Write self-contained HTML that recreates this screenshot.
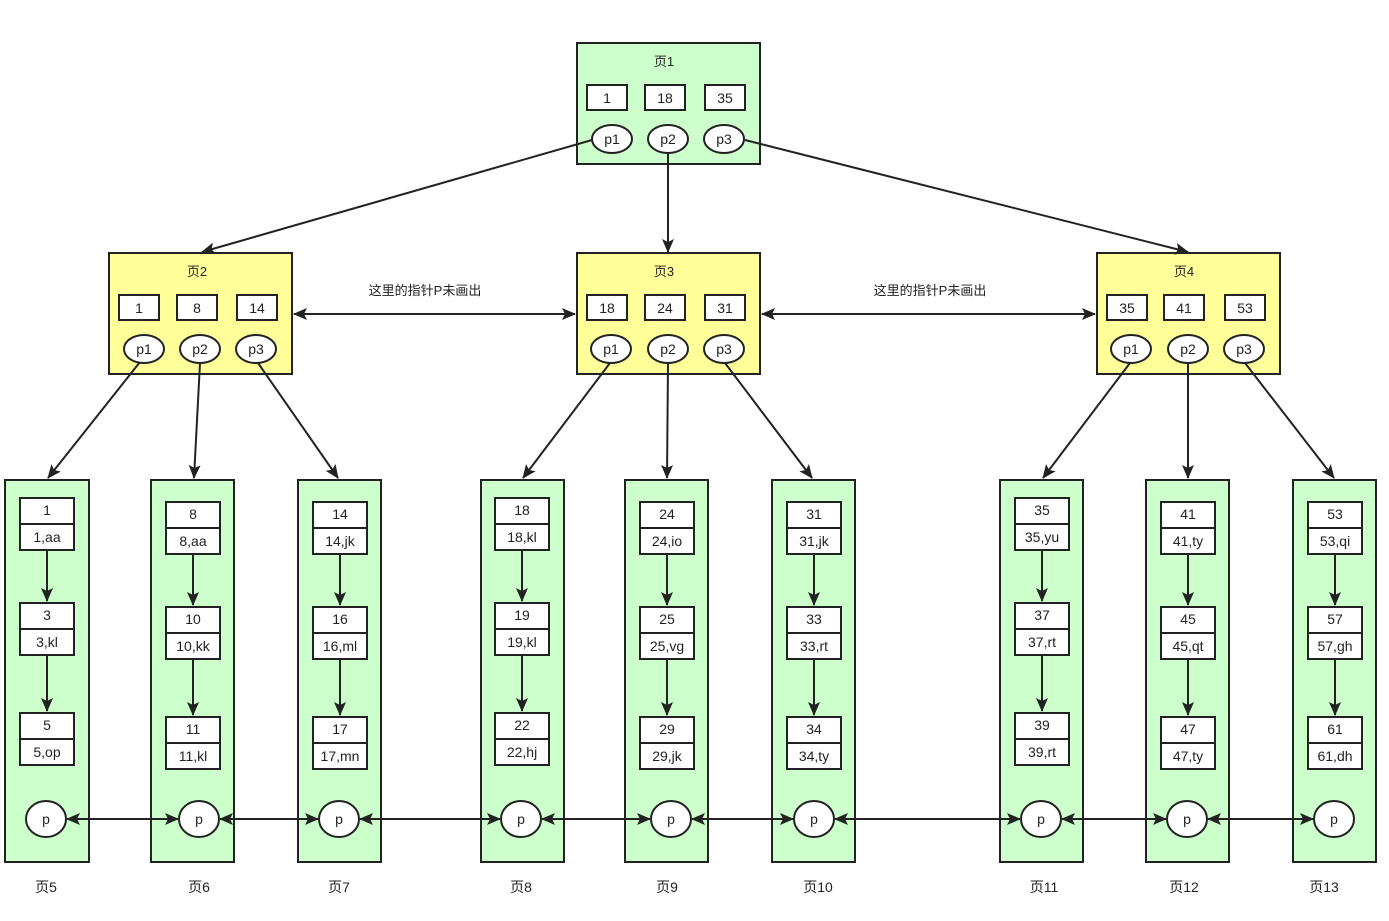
<!DOCTYPE html>
<html><head><meta charset="utf-8"><style>
html,body{margin:0;padding:0;background:#fff;}
svg{display:block;font-family:"Liberation Sans","Noto Sans CJK SC",sans-serif;}
text{font-size:14px;fill:#222;text-anchor:middle;}
</style></head><body>
<svg width="1389" height="921" viewBox="0 0 1389 921" xmlns="http://www.w3.org/2000/svg">
<defs>
<marker id="a" markerWidth="14" markerHeight="12" refX="13" refY="6" orient="auto-start-reverse" markerUnits="userSpaceOnUse"><path d="M0,0 L14,6 L0,12 L3,6 z" fill="#222"/></marker>
<g id="rec"><rect x="-27" y="0" width="54" height="52" fill="#fff" stroke="#222" stroke-width="2"/><line x1="-27" y1="26" x2="27" y2="26" stroke="#222" stroke-width="2"/></g>
</defs>
<g stroke="#222" stroke-width="2">
<rect x="577" y="43" width="183" height="121" fill="#ccffcc"/>
<rect x="109" y="253" width="183" height="121" fill="#ffff99"/>
<rect x="577" y="253" width="183" height="121" fill="#ffff99"/>
<rect x="1097" y="253" width="183" height="121" fill="#ffff99"/>
<g fill="#fff">
<rect x="587" y="85" width="40" height="25"/><rect x="645" y="85" width="40" height="25"/><rect x="705" y="85" width="40" height="25"/>
<rect x="119" y="295" width="40" height="25"/><rect x="177" y="295" width="40" height="25"/><rect x="237" y="295" width="40" height="25"/>
<rect x="587" y="295" width="40" height="25"/><rect x="645" y="295" width="40" height="25"/><rect x="705" y="295" width="40" height="25"/>
<rect x="1107" y="295" width="40" height="25"/><rect x="1164" y="295" width="40" height="25"/><rect x="1225" y="295" width="40" height="25"/>
</g>
<g fill="#ccffcc">
<rect x="5" y="480" width="84" height="382"/><rect x="151" y="480" width="83" height="382"/><rect x="298" y="480" width="83" height="382"/>
<rect x="481" y="480" width="83" height="382"/><rect x="625" y="480" width="83" height="382"/><rect x="772" y="480" width="83" height="382"/>
<rect x="1000" y="480" width="83" height="382"/><rect x="1146" y="480" width="83" height="382"/><rect x="1293" y="480" width="83" height="382"/>
</g>
<g fill="none" marker-end="url(#a)">
<line x1="592" y1="140" x2="202" y2="252"/><line x1="668" y1="153" x2="668" y2="252"/><line x1="745" y1="140" x2="1188" y2="252"/>
<line x1="140" y1="362" x2="48" y2="478"/><line x1="200" y1="363" x2="194" y2="478"/><line x1="258" y1="363" x2="338" y2="478"/>
<line x1="610" y1="363" x2="523" y2="478"/><line x1="668" y1="363" x2="667" y2="478"/><line x1="725" y1="363" x2="812" y2="478"/>
<line x1="1130" y1="363" x2="1043" y2="478"/><line x1="1188" y1="363" x2="1188" y2="478"/><line x1="1245" y1="363" x2="1334" y2="478"/>
<line x1="294" y1="314" x2="575" y2="314" marker-start="url(#a)"/>
<line x1="762" y1="314" x2="1095" y2="314" marker-start="url(#a)"/>
<line x1="67" y1="819" x2="178" y2="819" marker-start="url(#a)"/>
<line x1="220" y1="819" x2="318" y2="819" marker-start="url(#a)"/>
<line x1="360" y1="819" x2="500" y2="819" marker-start="url(#a)"/>
<line x1="542" y1="819" x2="650" y2="819" marker-start="url(#a)"/>
<line x1="692" y1="819" x2="793" y2="819" marker-start="url(#a)"/>
<line x1="835" y1="819" x2="1020" y2="819" marker-start="url(#a)"/>
<line x1="1062" y1="819" x2="1166" y2="819" marker-start="url(#a)"/>
<line x1="1208" y1="819" x2="1313" y2="819" marker-start="url(#a)"/>
</g>
<g fill="#fff">
<ellipse cx="612" cy="139" rx="20" ry="14"/><ellipse cx="668" cy="139" rx="20" ry="14"/><ellipse cx="724" cy="139" rx="20" ry="14"/>
<ellipse cx="144" cy="349" rx="20" ry="14"/><ellipse cx="200" cy="349" rx="20" ry="14"/><ellipse cx="256" cy="349" rx="20" ry="14"/>
<ellipse cx="611" cy="349" rx="20" ry="14"/><ellipse cx="668" cy="349" rx="20" ry="14"/><ellipse cx="724" cy="349" rx="20" ry="14"/>
<ellipse cx="1131" cy="349" rx="20" ry="14"/><ellipse cx="1188" cy="349" rx="20" ry="14"/><ellipse cx="1244" cy="349" rx="20" ry="14"/>
<ellipse cx="46" cy="819" rx="20" ry="18"/><ellipse cx="199" cy="819" rx="20" ry="18"/><ellipse cx="339" cy="819" rx="20" ry="18"/>
<ellipse cx="521" cy="819" rx="20" ry="18"/><ellipse cx="671" cy="819" rx="20" ry="18"/><ellipse cx="814" cy="819" rx="20" ry="18"/>
<ellipse cx="1041" cy="819" rx="20" ry="18"/><ellipse cx="1187" cy="819" rx="20" ry="18"/><ellipse cx="1334" cy="819" rx="20" ry="18"/>
</g>
</g>
<g transform="translate(47,-4)"><use href="#rec" y="502"/><use href="#rec" y="607"/><use href="#rec" y="717"/><g stroke="#222" stroke-width="2" marker-end="url(#a)"><line x1="0" y1="554" x2="0" y2="605"/><line x1="0" y1="659" x2="0" y2="715"/></g><text y="519">1</text><text y="546">1,aa</text><text y="624">3</text><text y="651">3,kl</text><text y="734">5</text><text y="761">5,op</text></g>
<g transform="translate(193,0)"><use href="#rec" y="502"/><use href="#rec" y="607"/><use href="#rec" y="717"/><g stroke="#222" stroke-width="2" marker-end="url(#a)"><line x1="0" y1="554" x2="0" y2="605"/><line x1="0" y1="659" x2="0" y2="715"/></g><text y="519">8</text><text y="546">8,aa</text><text y="624">10</text><text y="651">10,kk</text><text y="734">11</text><text y="761">11,kl</text></g>
<g transform="translate(340,0)"><use href="#rec" y="502"/><use href="#rec" y="607"/><use href="#rec" y="717"/><g stroke="#222" stroke-width="2" marker-end="url(#a)"><line x1="0" y1="554" x2="0" y2="605"/><line x1="0" y1="659" x2="0" y2="715"/></g><text y="519">14</text><text y="546">14,jk</text><text y="624">16</text><text y="651">16,ml</text><text y="734">17</text><text y="761">17,mn</text></g>
<g transform="translate(522,-4)"><use href="#rec" y="502"/><use href="#rec" y="607"/><use href="#rec" y="717"/><g stroke="#222" stroke-width="2" marker-end="url(#a)"><line x1="0" y1="554" x2="0" y2="605"/><line x1="0" y1="659" x2="0" y2="715"/></g><text y="519">18</text><text y="546">18,kl</text><text y="624">19</text><text y="651">19,kl</text><text y="734">22</text><text y="761">22,hj</text></g>
<g transform="translate(667,0)"><use href="#rec" y="502"/><use href="#rec" y="607"/><use href="#rec" y="717"/><g stroke="#222" stroke-width="2" marker-end="url(#a)"><line x1="0" y1="554" x2="0" y2="605"/><line x1="0" y1="659" x2="0" y2="715"/></g><text y="519">24</text><text y="546">24,io</text><text y="624">25</text><text y="651">25,vg</text><text y="734">29</text><text y="761">29,jk</text></g>
<g transform="translate(814,0)"><use href="#rec" y="502"/><use href="#rec" y="607"/><use href="#rec" y="717"/><g stroke="#222" stroke-width="2" marker-end="url(#a)"><line x1="0" y1="554" x2="0" y2="605"/><line x1="0" y1="659" x2="0" y2="715"/></g><text y="519">31</text><text y="546">31,jk</text><text y="624">33</text><text y="651">33,rt</text><text y="734">34</text><text y="761">34,ty</text></g>
<g transform="translate(1042,-4)"><use href="#rec" y="502"/><use href="#rec" y="607"/><use href="#rec" y="717"/><g stroke="#222" stroke-width="2" marker-end="url(#a)"><line x1="0" y1="554" x2="0" y2="605"/><line x1="0" y1="659" x2="0" y2="715"/></g><text y="519">35</text><text y="546">35,yu</text><text y="624">37</text><text y="651">37,rt</text><text y="734">39</text><text y="761">39,rt</text></g>
<g transform="translate(1188,0)"><use href="#rec" y="502"/><use href="#rec" y="607"/><use href="#rec" y="717"/><g stroke="#222" stroke-width="2" marker-end="url(#a)"><line x1="0" y1="554" x2="0" y2="605"/><line x1="0" y1="659" x2="0" y2="715"/></g><text y="519">41</text><text y="546">41,ty</text><text y="624">45</text><text y="651">45,qt</text><text y="734">47</text><text y="761">47,ty</text></g>
<g transform="translate(1335,0)"><use href="#rec" y="502"/><use href="#rec" y="607"/><use href="#rec" y="717"/><g stroke="#222" stroke-width="2" marker-end="url(#a)"><line x1="0" y1="554" x2="0" y2="605"/><line x1="0" y1="659" x2="0" y2="715"/></g><text y="519">53</text><text y="546">53,qi</text><text y="624">57</text><text y="651">57,gh</text><text y="734">61</text><text y="761">61,dh</text></g>
<g>
<text x="664" y="66" style="font-size:13px">页1</text>
<text x="607" y="103">1</text><text x="665" y="103">18</text><text x="725" y="103">35</text>
<text x="612" y="144">p1</text><text x="668" y="144">p2</text><text x="724" y="144">p3</text>
<text x="197" y="276" style="font-size:13px">页2</text>
<text x="139" y="313">1</text><text x="197" y="313">8</text><text x="257" y="313">14</text>
<text x="144" y="354">p1</text><text x="200" y="354">p2</text><text x="256" y="354">p3</text>
<text x="664" y="276" style="font-size:13px">页3</text>
<text x="607" y="313">18</text><text x="665" y="313">24</text><text x="725" y="313">31</text>
<text x="611" y="354">p1</text><text x="668" y="354">p2</text><text x="724" y="354">p3</text>
<text x="1184" y="276" style="font-size:13px">页4</text>
<text x="1127" y="313">35</text><text x="1184" y="313">41</text><text x="1245" y="313">53</text>
<text x="1131" y="354">p1</text><text x="1188" y="354">p2</text><text x="1244" y="354">p3</text>
<text x="425" y="295" style="font-size:13px">这里的指针P未画出</text>
<text x="930" y="295" style="font-size:13px">这里的指针P未画出</text>
<text x="46" y="824">p</text><text x="199" y="824">p</text><text x="339" y="824">p</text><text x="521" y="824">p</text><text x="671" y="824">p</text><text x="814" y="824">p</text><text x="1041" y="824">p</text><text x="1187" y="824">p</text><text x="1334" y="824">p</text>
<g style="font-size:13px">
<text x="46" y="892">页5</text><text x="199" y="892">页6</text><text x="339" y="892">页7</text><text x="521" y="892">页8</text><text x="667" y="892">页9</text><text x="818" y="892">页10</text><text x="1044" y="892">页11</text><text x="1184" y="892">页12</text><text x="1324" y="892">页13</text>
</g>
</g>
</svg>
</body></html>
